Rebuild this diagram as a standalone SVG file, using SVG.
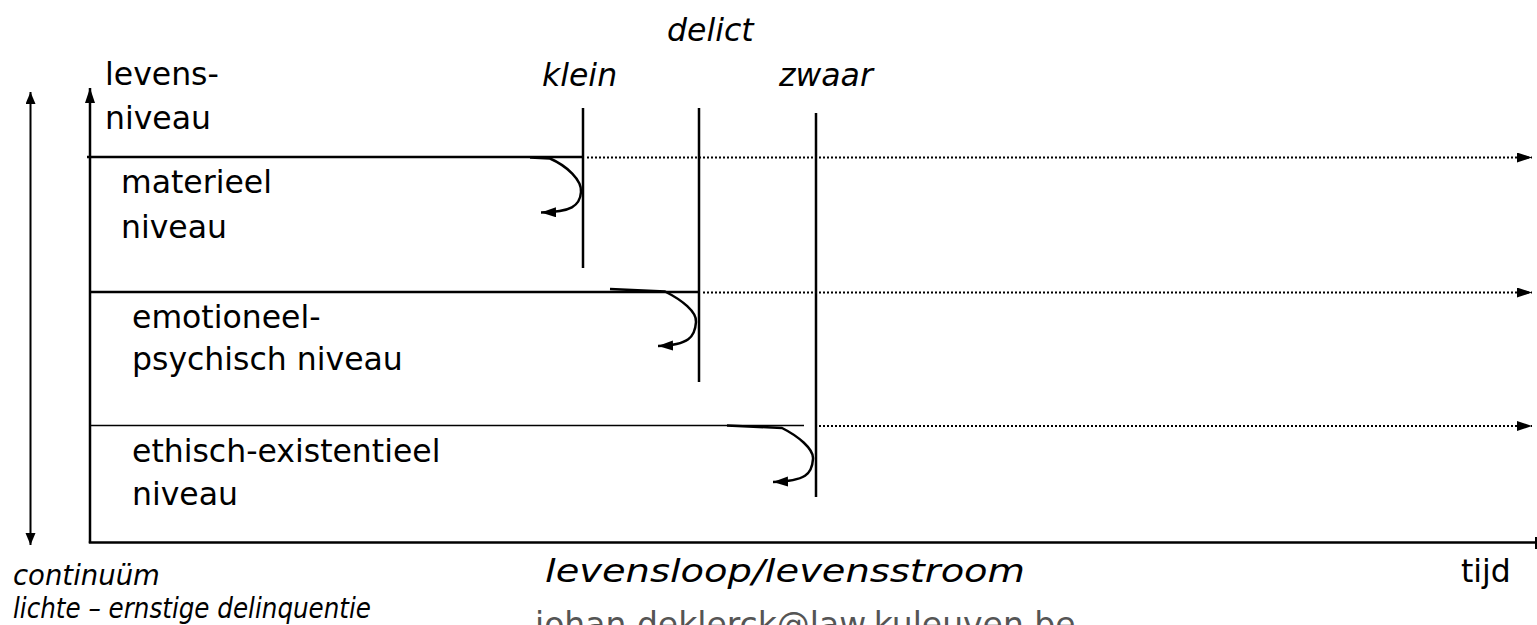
<svg xmlns="http://www.w3.org/2000/svg" width="1537" height="625" viewBox="0 0 1537 625">
<style>
  .t { font-family: "DejaVu Sans", "Liberation Sans", sans-serif; font-size: 31.5px; fill: #000; }
  .i { font-style: italic; }
  .ln { stroke: #000; fill: none; }
  .dot { stroke: #000; stroke-width: 2; stroke-dasharray: 2 2; fill: none; }
</style>
<defs>
  <marker id="ah" markerUnits="userSpaceOnUse" markerWidth="16" markerHeight="12" refX="15" refY="5" orient="auto">
    <path d="M0,0 L15,5 L0,10 z" fill="#000"/>
  </marker>
  <marker id="ahs" markerUnits="userSpaceOnUse" markerWidth="12" markerHeight="12" refX="12" refY="5" orient="auto-start-reverse">
    <path d="M0,0 L12,5 L0,10 z" fill="#000"/>
  </marker>
</defs>

<g id="connectors">
  <!-- continuum double arrow -->
  <line class="ln" x1="30.5" y1="545" x2="30.5" y2="92" stroke-width="2" marker-start="url(#ahs)" marker-end="url(#ahs)"/>
  <!-- y axis -->
  <line class="ln" x1="90" y1="543" x2="90" y2="88" stroke-width="2.5" marker-end="url(#ah)"/>
  <!-- x axis -->
  <line class="ln" x1="88.8" y1="542.5" x2="1537" y2="542.5" stroke-width="2.5"/>
  <line class="ln" x1="1536" y1="537" x2="1536" y2="549" stroke-width="2"/>

  <!-- level lines -->
  <line class="ln" x1="87" y1="157" x2="583" y2="157" stroke-width="2.5"/>
  <line class="dot" x1="587" y1="157.5" x2="1532" y2="157.5" marker-end="url(#ah)"/>
  <line class="ln" x1="90" y1="292" x2="699" y2="292" stroke-width="2.5"/>
  <line class="dot" x1="703" y1="292.5" x2="1532" y2="292.5" marker-end="url(#ah)"/>
  <line class="ln" x1="90" y1="425.5" x2="804" y2="425.5" stroke-width="1.5"/>
  <line class="dot" x1="815" y1="426" x2="1532" y2="426" marker-end="url(#ah)"/>

  <!-- delict lines -->
  <line class="ln" x1="583" y1="108" x2="583" y2="268" stroke-width="2.5"/>
  <line class="ln" x1="699" y1="108" x2="699" y2="382" stroke-width="2.5"/>
  <line class="ln" x1="816" y1="113" x2="816" y2="497" stroke-width="2.5"/>

  <!-- deflection arrows -->
  <path class="ln" stroke-width="2.5" d="M530,157.5 L550,158.5 C567,166 582,180 581,192 C580,206 571,212 541,212.5" marker-end="url(#ah)"/>
  <path class="ln" stroke-width="2.5" d="M610,289 L665,291.5 C682,300 697,312 696,322 C695,337 689,345 658,346" marker-end="url(#ah)"/>
  <path class="ln" stroke-width="2.5" d="M727,425.5 L782,428 C798,436 814,449 813,459 C812,474 806,481 773,482" marker-end="url(#ah)"/>
</g>

<g id="axis-label">
  <text class="t" x="105" y="85">levens-</text>
  <text class="t" x="105" y="129">niveau</text>
</g>
<g id="level-materieel">
  <text class="t" x="121" y="193">materieel</text>
  <text class="t" x="121" y="238">niveau</text>
</g>
<g id="level-emotioneel">
  <text class="t" x="132" y="328">emotioneel-</text>
  <text class="t" x="132" y="370">psychisch niveau</text>
</g>
<g id="level-ethisch">
  <text class="t" x="132" y="462">ethisch-existentieel</text>
  <text class="t" x="132" y="505">niveau</text>
</g>
<g id="delict-labels">
  <text class="t i" x="667" y="41">delict</text>
  <text class="t i" x="542" y="86">klein</text>
  <text class="t i" x="779" y="86">zwaar</text>
</g>
<g id="bottom-labels">
  <text class="t i" x="13" y="585" style="font-size:27.5px">continuüm</text>
  <text class="t i" x="13" y="618" style="font-size:27.5px" textLength="358" lengthAdjust="spacingAndGlyphs">lichte  – ernstige delinquentie</text>
  <text class="t i" x="545" y="582" textLength="480" lengthAdjust="spacingAndGlyphs">levensloop/levensstroom</text>
  <text class="t" x="1461" y="582">tijd</text>
  <text class="t" x="535" y="636" style="font-size:33px;fill:#555">johan.deklerck@law.kuleuven.be</text>
</g>
</svg>
